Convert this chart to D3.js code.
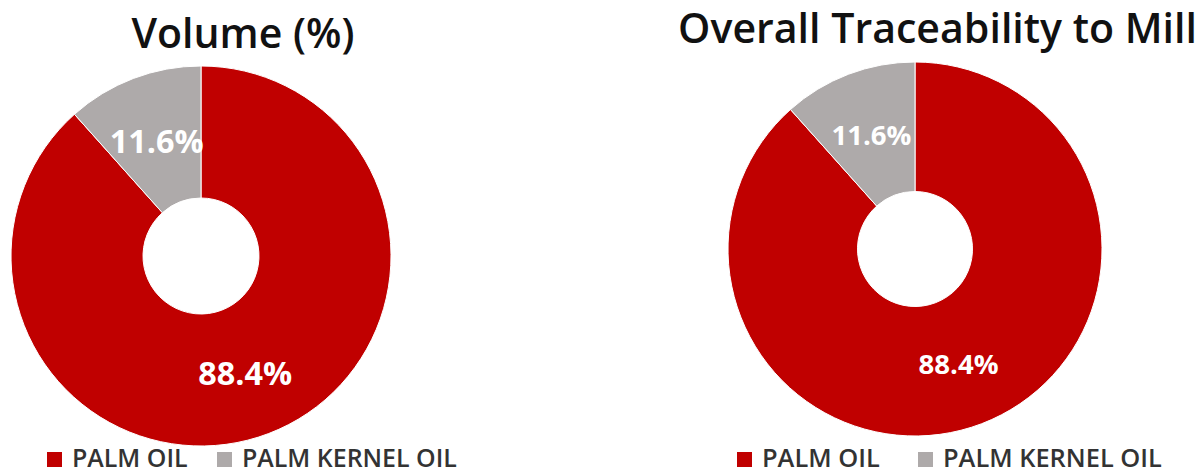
<!DOCTYPE html>
<html>
<head>
<meta charset="utf-8">
<script src="https://cdn.jsdelivr.net/npm/d3@7"></script>
<style>
  html, body { margin: 0; padding: 0; background: #fff; }
  svg { display: block; }
</style>
</head>
<body>
<svg id="chart" width="1202" height="473"></svg>
<script>
// ---- data ----
const categories = ["PALM OIL", "PALM KERNEL OIL"];
const volumeValues = [88.4, 11.6];
const traceabilityValues = [88.4, 11.6];
const chartTitles = ["Volume (%)", "Overall Traceability to Mill"];
const colors = ["#C00000", "#AEAAAA"];

// ---- layout ----
const panels = [
  { title: chartTitles[0], values: volumeValues, cx: 201, cy: 256, R: 190, r: 58,
    titleX: 243, titleY: 48, titleW: 223, labelW: 94,
    legendX: 47, legendTextX: 72, legend2X: 217, legend2TextX: 242, legendW: 215 },
  { title: chartTitles[1], values: traceabilityValues, cx: 915, cy: 249, R: 187, r: 57.5,
    titleX: 937.5, titleY: 43, titleW: 519, labelW: 80,
    legendX: 737, legendTextX: 762, legend2X: 918, legend2TextX: 943, legendW: 219 }
];

const svg = d3.select("#chart");
const font = "'Open Sans', Lato, sans-serif";

function fitSize(sel, target) {
  sel.attr("font-size", 100);
  const w = sel.node().getComputedTextLength();
  sel.attr("font-size", 100 * target / w);
}

panels.forEach(p => {
  const g = svg.append("g");
  const pie = d3.pie().sort(null).value(d => d);
  const arcs = pie(p.values);
  const arc = d3.arc().innerRadius(p.r).outerRadius(p.R);
  const mid = (p.R + p.r) / 2;
  const labelArc = d3.arc().innerRadius(mid).outerRadius(mid);

  const pg = g.append("g").attr("transform", `translate(${p.cx},${p.cy})`);
  pg.selectAll("path").data(arcs).join("path")
    .attr("d", arc)
    .attr("fill", (d, i) => colors[i])
    .attr("stroke", "#fff")
    .attr("stroke-width", 1);

  pg.selectAll("text").data(arcs).join("text")
    .attr("transform", d => `translate(${labelArc.centroid(d)})`)
    .attr("text-anchor", "middle")
    .attr("dominant-baseline", "central")
    .attr("font-family", font)
    .attr("font-weight", "bold")
    .attr("fill", "#fff")
    .text(d => d3.format(".1f")(d.data) + "%")
    .each(function () { fitSize(d3.select(this), p.labelW); });

  const t = g.append("text")
    .attr("x", p.titleX).attr("y", p.titleY)
    .attr("text-anchor", "middle")
    .attr("font-family", font)
    .attr("font-weight", 600)
    .attr("fill", "#111")
    .text(p.title);
  fitSize(t, p.titleW);

  const lg = g.append("g");
  const xs = [[p.legendX, p.legendTextX], [p.legend2X, p.legend2TextX]];
  categories.forEach((c, i) => {
    lg.append("rect").attr("x", xs[i][0]).attr("y", 452)
      .attr("width", 15).attr("height", 15).attr("fill", colors[i]);
  });
  const texts = lg.selectAll("text.leg").data(categories).join("text")
    .attr("class", "leg")
    .attr("x", (d, i) => xs[i][1]).attr("y", 467)
    .attr("font-family", font)
    .attr("font-weight", 600)
    .attr("fill", "#333")
    .text(d => d);
  const longSel = texts.filter((d, i) => i === 1);
  fitSize(longSel, p.legendW);
  texts.attr("font-size", longSel.attr("font-size"));
});
</script>
</body>
</html>
